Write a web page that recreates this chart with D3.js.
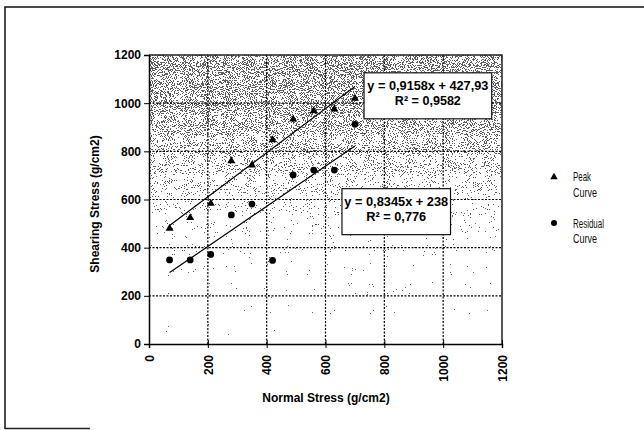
<!DOCTYPE html>
<html><head><meta charset="utf-8">
<script src="https://cdn.jsdelivr.net/npm/d3@7"></script>
<style>
html,body{margin:0;padding:0;background:#fff;}
svg{display:block;font-family:"Liberation Sans",Arial,sans-serif;}
</style></head>
<body>
<svg id="chart" width="644" height="430"></svg>
<script>
// ---- data ----
const normalStress   = [70, 140, 210, 280, 350, 420, 490, 560, 630, 700];
const peakStress     = [480, 524, 584, 760, 743, 847, 933, 968, 975, 1020];
const residualStress = [349, 349, 372, 536, 581, 347, 702, 722, 722, 912];
const seriesNames    = ["Peak Curve", "Residual Curve"];
const peakFit        = {slope: 0.9158, intercept: 427.93, label1: "y = 0,9158x + 427,93", label2: "R² = 0,9582"};
const residualFit    = {slope: 0.8345, intercept: 238, label1: "y = 0,8345x + 238", label2: "R² = 0,776"};
const xTicks = [0, 200, 400, 600, 800, 1000, 1200];
const yTicks = [0, 200, 400, 600, 800, 1000, 1200];
const xTitle = "Normal Stress (g/cm2)";
const yTitle = "Shearing Stress (g/cm2)";

const svg = d3.select("#chart");
const m = {left: 149, right: 502, top: 55, bottom: 344};
const x = d3.scaleLinear().domain([0, 1200]).range([m.left, m.right]);
const y = d3.scaleLinear().domain([0, 1200]).range([m.bottom, m.top]);

// outer frame (partially visible)
svg.append("path").attr("d", "M5,429 L5,7 L644,7").attr("fill","none").attr("stroke","#111").attr("stroke-width",1.5);
svg.append("line").attr("x1",5).attr("x2",90).attr("y1",428.5).attr("y2",428.5).attr("stroke","#222").attr("stroke-width",1.5);

// stippled background
const defs = svg.append("defs");
const grad = defs.append("linearGradient").attr("id","bg").attr("x1",0).attr("x2",0).attr("y1",0).attr("y2",1);
[[0,0.53],[0.2,0.55],[0.33,0.6],[0.45,0.66],[0.58,0.72],[0.75,0.79],[1,0.83]].forEach(([o,g])=>{
  const c = Math.round(g*255);
  grad.append("stop").attr("offset",o).attr("stop-color",`rgb(${c},${c},${c})`);
});
const f = defs.append("filter").attr("id","stip").attr("x",0).attr("y",0).attr("width",1).attr("height",1)
  .attr("color-interpolation-filters","sRGB");
f.append("feTurbulence").attr("type","fractalNoise").attr("baseFrequency",0.95).attr("numOctaves",2).attr("seed",7).attr("result","noise");
f.append("feColorMatrix").attr("in","noise").attr("type","matrix")
  .attr("values","1 0 0 0 0  1 0 0 0 0  1 0 0 0 0  0 0 0 0 1").attr("result","n");
f.append("feComposite").attr("in","SourceGraphic").attr("in2","n").attr("operator","arithmetic")
  .attr("k1",0).attr("k2",1).attr("k3",1).attr("k4",-0.5).attr("result","sum");
const ct = f.append("feComponentTransfer").attr("in","sum");
["feFuncR","feFuncG","feFuncB"].forEach(fn=>ct.append(fn).attr("type","discrete").attr("tableValues","0.38 1"));
ct.append("feFuncA").attr("type","linear").attr("slope",0).attr("intercept",1);

svg.append("rect").attr("x",x(0)).attr("y",y(1200)).attr("width",x(1200)-x(0)).attr("height",y(0)-y(1200))
  .attr("fill","url(#bg)").attr("filter","url(#stip)");

// gridlines
svg.append("g").selectAll("line").data(xTicks.filter(t=>t>0&&t<1200)).join("line")
  .attr("x1",d=>x(d)).attr("x2",d=>x(d)).attr("y1",y(0)).attr("y2",y(1200))
  .attr("stroke","#000").attr("stroke-width",1.2).attr("stroke-dasharray","2,1.5");
svg.append("g").selectAll("line").data(yTicks.filter(t=>t>0&&t<1200)).join("line")
  .attr("x1",x(0)).attr("x2",x(1200)).attr("y1",d=>y(d)).attr("y2",d=>y(d))
  .attr("stroke","#000").attr("stroke-width",1.2).attr("stroke-dasharray","2,1.5");

// plot border (top/right)
svg.append("path").attr("d",`M${x(0)},${y(1200)} L${x(1200)},${y(1200)} L${x(1200)},${y(0)}`)
  .attr("fill","none").attr("stroke","#222").attr("stroke-width",1.5);

// axes
const yAxis = d3.axisLeft(y).tickValues(yTicks).tickSize(5).tickPadding(3).tickFormat(d3.format("d"));
const gy = svg.append("g").attr("transform",`translate(${x(0)},0)`).call(yAxis);
gy.select(".domain").attr("stroke","#000").attr("stroke-width",1.5);
gy.selectAll(".tick line").attr("stroke","#000");
gy.selectAll("text").attr("font-size",12).attr("font-weight","bold").attr("fill","#000")
  .attr("font-family","'Liberation Sans',Arial,sans-serif");

const xAxis = d3.axisBottom(x).tickValues(xTicks).tickSize(4).tickFormat(d3.format("d"));
const gx = svg.append("g").attr("transform",`translate(0,${y(0)})`).call(xAxis);
gx.select(".domain").attr("stroke","#000").attr("stroke-width",1.5);
gx.selectAll(".tick line").attr("stroke","#000").attr("y1",-4);
gx.selectAll("text").attr("font-size",12).attr("font-weight","bold").attr("fill","#000")
  .attr("font-family","'Liberation Sans',Arial,sans-serif")
  .attr("transform","rotate(-90)").attr("text-anchor","end").attr("x",-11).attr("y",0).attr("dy","0.35em");

// axis titles
svg.append("text").attr("x",326).attr("y",402).attr("text-anchor","middle")
  .attr("font-size",12).attr("font-weight","bold").text(xTitle);
svg.append("text").attr("transform","translate(99,204) rotate(-90)").attr("text-anchor","middle")
  .attr("font-size",12).attr("font-weight","bold").text(yTitle);

// trendlines
function trend(fit){ return [[70, fit.slope*70+fit.intercept],[700, fit.slope*700+fit.intercept]]; }
const lineGen = d3.line().x(d=>x(d[0])).y(d=>y(d[1]));
svg.append("path").attr("d",lineGen(trend(peakFit))).attr("stroke","#000").attr("stroke-width",1.2).attr("fill","none");
svg.append("path").attr("d",lineGen(trend(residualFit))).attr("stroke","#000").attr("stroke-width",1.2).attr("fill","none");

// points
const tri = d3.symbol().type(d3.symbolTriangle).size(28);
const cir = d3.symbol().type(d3.symbolCircle).size(36);
svg.append("g").selectAll("path").data(normalStress.map((v,i)=>[v,peakStress[i]])).join("path")
  .attr("d",tri).attr("transform",d=>`translate(${x(d[0])},${y(d[1])})`).attr("fill","#000");
svg.append("g").selectAll("path").data(normalStress.map((v,i)=>[v,residualStress[i]])).join("path")
  .attr("d",cir).attr("transform",d=>`translate(${x(d[0])},${y(d[1])})`).attr("fill","#000");

// equation boxes (anchored in data coordinates)
function eqBox(fit, x0, x1, y0, y1, w1, w2){
  const g = svg.append("g");
  g.append("rect").attr("x",x(x0)).attr("y",y(y0)).attr("width",x(x1)-x(x0)).attr("height",y(y1)-y(y0))
    .attr("fill","#fff").attr("stroke","#111").attr("stroke-width",1.2);
  const cx = (x(x0)+x(x1))/2;
  const h = y(y1)-y(y0);
  g.append("text").attr("x",cx).attr("y",y(y0)+h*0.37).attr("text-anchor","middle")
    .attr("font-size",13.5).attr("font-weight","bold").attr("textLength",w1).attr("lengthAdjust","spacingAndGlyphs").text(fit.label1);
  g.append("text").attr("x",cx).attr("y",y(y0)+h*0.71).attr("text-anchor","middle")
    .attr("font-size",13.5).attr("font-weight","bold").attr("textLength",w2).attr("lengthAdjust","spacingAndGlyphs").text(fit.label2);
}
eqBox(peakFit, 731, 1165, 1126, 935, 121, 66);
eqBox(residualFit, 656, 1025, 645, 454, 104, 60);

// legend
const lg = svg.append("g");
lg.append("path").attr("d",d3.symbol().type(d3.symbolTriangle).size(24)).attr("transform","translate(554,177)").attr("fill","#000");
lg.append("path").attr("d",d3.symbol().type(d3.symbolCircle).size(28)).attr("transform","translate(554,223)").attr("fill","#000");
const legendRows = [["Peak",181,18],["Curve",196.5,24],["Residual",227.5,31],["Curve",243,24]];
lg.selectAll("text").data(legendRows).join("text").attr("x",573).attr("y",d=>d[1])
  .attr("font-size",13).attr("fill","#111").attr("textLength",d=>d[2]).attr("lengthAdjust","spacingAndGlyphs").text(d=>d[0]);
</script>
</body></html>
